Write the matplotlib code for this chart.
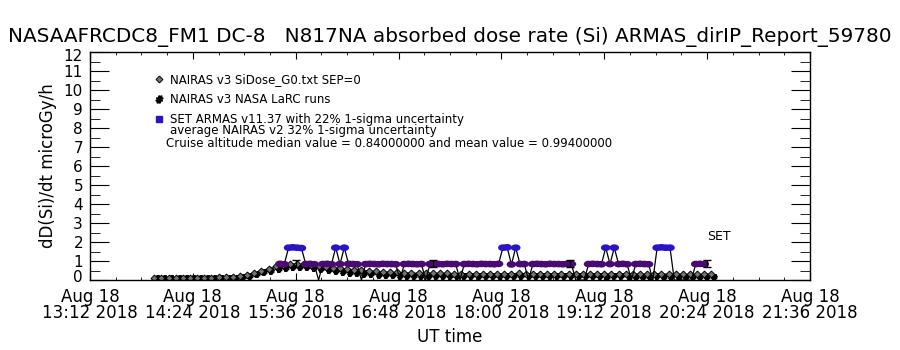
import matplotlib
matplotlib.use("Agg")
import matplotlib.pyplot as plt
import matplotlib.dates as mdates
import matplotlib.transforms as mtransforms
from matplotlib.lines import Line2D
import numpy as np

# flight start of the time axis
t_axis0 = np.datetime64("2018-08-18T13:12")
x_major_minutes = [0, 72, 144, 216, 288, 360, 432, 504]

# NAIRAS v3 SiDose_G0 (minutes after 13:12, 5 min cadence)
sidose_start, sidose_step = 45, 5
sidose_vals = [0.10, 0.11, 0.11, 0.12, 0.12, 0.12, 0.13, 0.13, 0.13, 0.14, 0.14, 0.16,
               0.20, 0.28, 0.37, 0.48, 0.60, 0.72, 0.80, 0.84, 0.85, 0.82, 0.78, 0.73,
               0.69, 0.65, 0.62, 0.58, 0.55, 0.52, 0.48, 0.45, 0.43, 0.41, 0.40, 0.38,
               0.37, 0.36, 0.36, 0.35, 0.35, 0.35, 0.34, 0.34, 0.34, 0.33,
               0.34, 0.33, 0.33, 0.34, 0.34, 0.35, 0.34, 0.34, 0.33, 0.33,
               0.32, 0.33, 0.34, 0.34, 0.33, 0.33, 0.32, 0.32, 0.33, 0.33,
               0.32, 0.32, 0.32, 0.31, 0.31, 0.32, 0.31, 0.31, 0.30, 0.30,
               0.30, 0.31, 0.30]

# NAIRAS v3 NASA LaRC runs
larc_start, larc_step = 47, 5
larc_vals = [0.08, 0.08, 0.09, 0.09, 0.09, 0.10, 0.10, 0.10, 0.11, 0.11, 0.12, 0.13,
             0.16, 0.22, 0.30, 0.40, 0.50, 0.58, 0.64, 0.67, 0.68, 0.66, 0.62, 0.57,
             0.52, 0.47, 0.43, 0.39, 0.35, 0.32, 0.29, 0.27, 0.25, 0.24, 0.23, 0.22,
             0.22, 0.21, 0.21, 0.21, 0.20, 0.20, 0.20, 0.21, 0.20, 0.20,
             0.20, 0.19, 0.20, 0.20, 0.21, 0.21, 0.20, 0.20, 0.19, 0.19,
             0.19, 0.20, 0.20, 0.20, 0.19, 0.19, 0.19, 0.18, 0.19, 0.19,
             0.19, 0.18, 0.18, 0.18, 0.19, 0.18, 0.18, 0.18, 0.17, 0.17,
             0.17, 0.18, 0.17]

# SET ARMAS v11.37 (3 min cadence), 0 = no valid reading
armas_start, armas_step = 133, 3
armas_vals = [0.85, 0.83, 1.70, 1.72, 1.70, 1.68, 0.84, 0.85, 0.83, 0.0,
              0.84, 0.85, 0.83, 1.70, 0.84, 1.70, 0.85, 0.84, 0.83, 0.0,
              0.84, 0.85, 0.84, 0.83, 0.85, 0.84, 0.84, 0.83, 0.0,
              0.84, 0.85, 0.84, 0.83, 0.84, 0.0,
              0.84, 0.85, 0.84, 0.83, 0.85, 0.84, 0.84, 0.0,
              0.84, 0.85, 0.84, 0.83, 0.85, 0.84, 0.84, 0.83, 0.85,
              1.70, 1.72, 0.82, 1.70, 0.84, 0.84, 0.0,
              0.84, 0.85, 0.84, 0.83, 0.85, 0.84, 0.84, 0.83, 0.85, 0.84,
              0.0, 0.0, 0.0,
              0.84, 0.85, 0.84, 0.83, 1.70, 0.84, 1.70, 0.84, 0.85, 0.83,
              0.0, 0.84, 0.85, 0.84, 0.83,
              0.0, 1.70, 1.72, 1.70, 1.70, 0.0, 0.0, 0.0, 0.0, 0.0,
              0.84, 0.85, 0.84]

# ARMAS 22% 1-sigma error bars
err_minutes = [144, 240, 336, 432]
err_vals = [0.85, 0.85, 0.85, 0.85]

title = "NASAAFRCDC8_FM1 DC-8   N817NA absorbed dose rate (Si) ARMAS_dirIP_Report_59780"

PURPLE = "#4b0a72"
BLUE = "#2a14c8"


def to_time(start, step, n):
    return t_axis0 + (start + step * np.arange(n)).astype("timedelta64[m]")


# flattened blob used by the ARMAS symbols
th = np.linspace(0, 2 * np.pi, 24)
blob = np.column_stack([np.cos(th), 0.7 * np.sin(th)])

plt.rcParams["font.family"] = ["DejaVu Sans"]
fig = plt.figure(figsize=(9, 3.5), dpi=100)
ax = fig.add_axes([0.1, 0.2, 0.8, 0.6514])

t_sid = to_time(sidose_start, sidose_step, len(sidose_vals))
t_larc = to_time(larc_start, larc_step, len(larc_vals))
t_arm = to_time(armas_start, armas_step, len(armas_vals))
armas = np.array(armas_vals)

ax.plot(t_larc, larc_vals, color="black", lw=0.7, marker="$\\#$", ms=4)
ax.plot(t_sid, sidose_vals, color="black", lw=0.7, marker="D", ms=3.5,
        mfc="0.45", mec="black", mew=0.7)

ax.plot(t_arm, armas, color="black", lw=0.9)
ok = armas > 0
cols = np.where(armas[ok] > 1.2, BLUE, PURPLE)
ax.scatter(t_arm[ok], armas[ok], c=cols, marker=blob, s=48, linewidths=0, zorder=3)

t_err = t_axis0 + np.array(err_minutes).astype("timedelta64[m]")
ax.errorbar(t_err, err_vals, yerr=0.22 * np.array(err_vals), fmt="none",
            ecolor="black", elinewidth=1, capsize=3, zorder=4)

ax.set_xlim(t_axis0, t_axis0 + np.timedelta64(504, "m"))
ax.set_ylim(0, 12)
ax.set_xticks(t_axis0 + np.array(x_major_minutes).astype("timedelta64[m]"))
ax.set_xticks(t_axis0 + np.arange(0, 505, 18).astype("timedelta64[m]"), minor=True)
ax.xaxis.set_major_formatter(mdates.DateFormatter("%b %d\n%H:%M %Y"))
ax.set_yticks(range(13))
ax.set_yticks(np.arange(0, 12, 0.5), minor=True)

ax.tick_params(axis="both", which="both", direction="in", top=True, right=True,
               labelsize=12, colors="black")
ax.tick_params(axis="y", labelsize=11)
ax.tick_params(axis="x", which="major", length=5, pad=6)
ax.tick_params(axis="x", which="minor", length=2.5)
ax.tick_params(axis="y", which="major", length=14, pad=5)
ax.tick_params(axis="y", which="minor", length=7)
fig.canvas.draw()
for lab in ax.get_xticklabels():
    lab.set_linespacing(0.85)
# nudge the end labels inward, like the original plot
ylabs = ax.get_yticklabels()
ylabs[0].set_transform(ylabs[0].get_transform() +
                       mtransforms.ScaledTranslation(0, 3 / 72, fig.dpi_scale_trans))
ylabs[-1].set_transform(ylabs[-1].get_transform() +
                        mtransforms.ScaledTranslation(0, -2 / 72, fig.dpi_scale_trans))
for s in ax.spines.values():
    s.set_linewidth(1)

ax.set_xlabel("UT time", fontsize=12, labelpad=4)
ax.set_ylabel("dD(Si)/dt microGy/h", fontsize=12, labelpad=5)
fig.text(0.5, 0.893, title, ha="center", va="center", fontsize=14.4)

handles = [
    Line2D([], [], ls="none", marker="D", ms=3.5, mfc="0.45", mec="black", mew=0.7),
    Line2D([], [], ls="none", marker="$\\#$", ms=5, color="black"),
    Line2D([], [], ls="none", marker="s", ms=4.5, color=BLUE),
]
labels = ["NAIRAS v3 SiDose_G0.txt SEP=0", "NAIRAS v3 NASA LaRC runs",
          "SET ARMAS v11.37 with 22% 1-sigma uncertainty"]
ax.legend(handles, labels, loc="upper left", bbox_to_anchor=(0.083, 0.93),
          frameon=False, fontsize=8.5, handlelength=0.8, handletextpad=0.5,
          labelspacing=0.6, borderaxespad=0)
ax.text(0.111, 0.654, "average NAIRAS v2 32% 1-sigma uncertainty",
        transform=ax.transAxes, fontsize=8.5, va="center")
ax.text(0.105, 0.600,
        "Cruise altitude median value = 0.84000000 and mean value = 0.99400000",
        transform=ax.transAxes, fontsize=8.5, va="center")
ax.text(0.857, 0.189, "SET", transform=ax.transAxes, fontsize=9, va="center")

fig.savefig("out.png", dpi=100, facecolor="white")
